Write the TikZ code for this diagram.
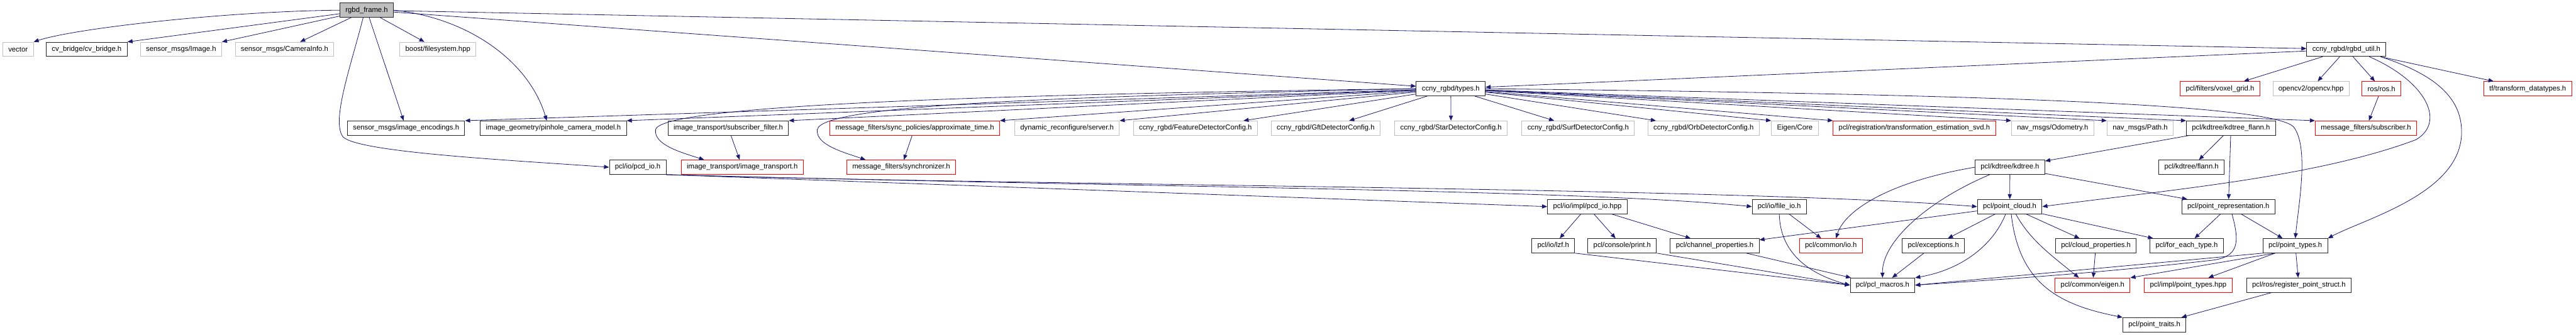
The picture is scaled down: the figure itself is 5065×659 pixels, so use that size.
\documentclass[tikz,border=0pt]{standalone}
\usepackage{fontspec}
\setmainfont{Liberation Sans}
\usepackage{tikz}
\usetikzlibrary{arrows.meta}
\definecolor{edgeblue}{HTML}{191970}
\definecolor{missgray}{HTML}{BFBFBF}
\definecolor{cutred}{HTML}{FF0000}

\begin{document}
\begin{tikzpicture}[
  x=1pt, y=-1pt,
  every node/.style={font=\fontsize{14}{16}\selectfont},
  hdr/.style={line width=1.2pt, minimum height=28pt,
              inner xsep=11pt, inner ysep=0pt},
  docbox/.style={hdr, draw=black!85},
  missbox/.style={hdr, draw=missgray},
  cutbox/.style={hdr, draw=cutred},
  rootbox/.style={hdr, draw=black!85, fill=missgray},
  dep/.style={-{Triangle[length=10pt,width=8pt]}, line width=1pt, color=edgeblue}
]
\useasboundingbox (0,0) rectangle (5065,659);

\node[rootbox] (frame) at (721,20) {rgbd\_frame.h};

\node[missbox] (vector)   at (35.5,97)   {vector};
\node[docbox]  (cvbridge) at (170.5,97)  {cv\_bridge/cv\_bridge.h};
\node[missbox] (image)    at (356,97)    {sensor\_msgs/Image.h};
\node[missbox] (caminfo)  at (559.5,97)  {sensor\_msgs/CameraInfo.h};
\node[missbox] (boostfs)  at (861,97)    {boost/filesystem.hpp};
\node[docbox]  (util)     at (4613.5,97) {ccny\_rgbd/rgbd\_util.h};

\node[docbox]  (types)   at (2852.5,174.5) {ccny\_rgbd/types.h};
\node[cutbox]  (voxel)   at (4365,174.5)   {pcl/filters/voxel\_grid.h};
\node[missbox] (opencv)  at (4544,174.5)   {opencv2/opencv.hpp};
\node[cutbox]  (ros)     at (4682.5,174.5) {ros/ros.h};
\node[cutbox]  (tfdata)  at (4970,174.5)   {tf/transform\_datatypes.h};

\node[docbox]  (encodings) at (798.5,252)  {sensor\_msgs/image\_encodings.h};
\node[docbox]  (pinhole)   at (1088,252)   {image\_geometry/pinhole\_camera\_model.h};
\node[docbox]  (subfilter) at (1432,252)   {image\_transport/subscriber\_filter.h};
\node[cutbox]  (approx)    at (1798.5,252) {message\_filters/sync\_policies/approximate\_time.h};
\node[missbox] (dynrec)    at (2098,252)   {dynamic\_reconfigure/server.h};
\node[missbox] (featcfg)   at (2350.5,252) {ccny\_rgbd/FeatureDetectorConfig.h};
\node[missbox] (gftcfg)    at (2606.5,252) {ccny\_rgbd/GftDetectorConfig.h};
\node[missbox] (starcfg)   at (2853,252)   {ccny\_rgbd/StarDetectorConfig.h};
\node[missbox] (surfcfg)   at (3103,252)   {ccny\_rgbd/SurfDetectorConfig.h};
\node[missbox] (orbcfg)    at (3349.5,252) {ccny\_rgbd/OrbDetectorConfig.h};
\node[missbox] (eigencore) at (3529,252)   {Eigen/Core};
\node[cutbox]  (tesvd)     at (3764,252)   {pcl/registration/transformation\_estimation\_svd.h};
\node[missbox] (odom)      at (4036,252)   {nav\_msgs/Odometry.h};
\node[missbox] (path)      at (4208,252)   {nav\_msgs/Path.h};
\node[docbox]  (kdflann)   at (4386.5,252) {pcl/kdtree/kdtree\_flann.h};
\node[cutbox]  (mfsub)     at (4652,252)   {message\_filters/subscriber.h};

\node[docbox] (pcdio)    at (1254,329)   {pcl/io/pcd\_io.h};
\node[cutbox] (imgtrans) at (1459.5,329) {image\_transport/image\_transport.h};
\node[cutbox] (sync)     at (1772,329)   {message\_filters/synchronizer.h};
\node[docbox] (kdtree)   at (3952,329)   {pcl/kdtree/kdtree.h};
\node[docbox] (flann)    at (4309,329)   {pcl/kdtree/flann.h};

\node[docbox] (pcdhpp)   at (3121,406.5)   {pcl/io/impl/pcd\_io.hpp};
\node[docbox] (fileio)   at (3498.5,406.5) {pcl/io/file\_io.h};
\node[docbox] (cloud)    at (3951.5,406.5) {pcl/point\_cloud.h};
\node[docbox] (pointrep) at (4381.5,406.5) {pcl/point\_representation.h};

\node[docbox] (lzf)       at (3054,483.5)   {pcl/io/lzf.h};
\node[docbox] (print)     at (3189.5,483.5) {pcl/console/print.h};
\node[docbox] (chanprop)  at (3371.5,483.5) {pcl/channel\_properties.h};
\node[cutbox] (commonio)  at (3600,483.5)   {pcl/common/io.h};
\node[docbox] (except)    at (3801.5,483.5) {pcl/exceptions.h};
\node[docbox] (cloudprop) at (4121,483.5)   {pcl/cloud\_properties.h};
\node[docbox] (foreach)   at (4299.5,483.5) {pcl/for\_each\_type.h};
\node[docbox] (ptypes)    at (4513,483.5)   {pcl/point\_types.h};

\node[docbox] (macros)    at (3701.5,561) {pcl/pcl\_macros.h};
\node[cutbox] (ceigen)    at (4114.5,561) {pcl/common/eigen.h};
\node[cutbox] (ptypeshpp) at (4302.5,561) {pcl/impl/point\_types.hpp};
\node[docbox] (regstruct) at (4520,561)   {pcl/ros/register\_point\_struct.h};

\node[docbox] (traits) at (4236,639) {pcl/point\_traits.h};

\draw[dep] (frame.west) .. controls (450,22) and (150,55) .. (vector.north east);
\draw[dep] (frame) -- (cvbridge.north east);
\draw[dep] (frame) -- (image.north east);
\draw[dep] (frame) -- (caminfo);
\draw[dep] (frame) -- (boostfs);
\draw[dep] (frame) -- (encodings);
\draw[dep] (frame.east) .. controls (920,35) and (1040,120) .. ([xshift=-13pt]pinhole.north);
\draw[dep] ([xshift=-7pt]frame.south) .. controls (690,130) and (650,240) .. (675,270)
  .. controls (710,300) and (1000,315) .. (pcdio.west);
\draw[dep] (frame) -- (types);
\draw[dep] (frame) -- (util);

\draw[dep] (util) -- (types);
\draw[dep] (util) -- (voxel);
\draw[dep] (util) -- (opencv);
\draw[dep] (util) -- (ros);
\draw[dep] (util) -- (tfdata);
\draw[dep] ([xshift=45pt]util.south) .. controls (4770,160) and (4810,240) .. (4750,275)
  .. controls (4550,350) and (4250,375) .. (cloud.east);
\draw[dep] ([xshift=67pt]util.south) .. controls (4800,150) and (4840,200) .. (4840,260)
  .. controls (4840,380) and (4650,430) .. (ptypes.north east);
\draw[dep] (ros) -- (mfsub);

\draw[dep] (types) -- (encodings.north east);
\draw[dep] (types) -- (pinhole.north east);
\draw[dep] (types) -- (subfilter.north east);
\draw[dep] (types.west) .. controls (2000,185) and (1300,205) .. (1289,255)
  .. controls (1285,285) and (1340,300) .. ([xshift=-75pt]imgtrans.north);
\draw[dep] (types) -- (approx.north east);
\draw[dep] (types.west) .. controls (2100,190) and (1615,205) .. (1607,255)
  .. controls (1603,285) and (1660,300) .. ([xshift=-70pt]sync.north);
\draw[dep] (types) -- (dynrec.north east);
\draw[dep] (types) -- (featcfg);
\draw[dep] (types) -- (gftcfg);
\draw[dep] (types) -- (starcfg);
\draw[dep] (types) -- (surfcfg);
\draw[dep] (types) -- (orbcfg);
\draw[dep] (types) -- (eigencore.north west);
\draw[dep] (types) -- (tesvd.north west);
\draw[dep] (types) -- (odom.north west);
\draw[dep] (types) -- (path.north west);
\draw[dep] (types) -- (kdflann.north west);
\draw[dep] (types) -- (mfsub.north west);
\draw[dep] (types.east) .. controls (3900,185) and (4470,205) .. (4510,250)
  .. controls (4540,290) and (4520,400) .. (ptypes.north);

\draw[dep] (subfilter) -- (imgtrans);
\draw[dep] (approx) -- (sync);

\draw[dep] (kdflann) -- (kdtree);
\draw[dep] (kdflann) -- (flann);
\draw[dep] (kdflann) -- (pointrep);

\draw[dep] (pcdio.south east) -- (pcdhpp.west);
\draw[dep] (pcdio.south east) .. controls (2200,368) and (3100,372) .. (fileio.west);
\draw[dep] (pcdio.south east) .. controls (2000,365) and (3400,368) .. (cloud.west);

\draw[dep] (kdtree) -- (cloud);
\draw[dep] (kdtree) -- (pointrep);
\draw[dep] (kdtree.west) .. controls (3700,360) and (3625,420) .. ([xshift=10pt]commonio.north);
\draw[dep] ([xshift=-40pt]kdtree.south) .. controls (3780,400) and (3700,480) .. (macros.north);

\draw[dep] (pcdhpp) -- (lzf);
\draw[dep] (pcdhpp) -- (print);
\draw[dep] (pcdhpp) -- (chanprop);

\draw[dep] (fileio) -- (commonio);
\draw[dep] (fileio.south) .. controls (3500,500) and (3560,540) .. (macros.west);

\draw[dep] (cloud) -- (chanprop);
\draw[dep] (cloud) -- (except);
\draw[dep] ([xshift=-8pt]cloud.south) .. controls (3920,480) and (3860,530) .. (macros.north east);
\draw[dep] ([xshift=12pt]cloud.south) .. controls (3990,470) and (4030,500) .. ([xshift=-27pt]ceigen.north);
\draw[dep] (cloud) -- (cloudprop);
\draw[dep] (cloud) -- (foreach);
\draw[dep] ([xshift=3pt]cloud.south) .. controls (3970,560) and (4050,600) .. (traits.north west);

\draw[dep] (pointrep) -- (foreach);
\draw[dep] (pointrep) -- (ptypes);
\draw[dep] ([xshift=7pt]pointrep.south) .. controls (4405,480) and (4400,505) .. (4350,512)
  .. controls (4100,540) and (3900,552) .. (macros.east);

\draw[dep] (lzf.south east) -- (macros.west);
\draw[dep] (print.south east) -- (macros.west);
\draw[dep] (chanprop) -- (macros);
\draw[dep] (except) -- (macros);
\draw[dep] (cloudprop) -- (ceigen);

\draw[dep] (ptypes.south west) -- (macros.east);
\draw[dep] ([xshift=-40pt]ptypes.south) -- (ceigen.north east);
\draw[dep] (ptypes) -- (ptypeshpp);
\draw[dep] (ptypes) -- (regstruct);
\draw[dep] (regstruct) -- (traits);
\end{tikzpicture}
\end{document}
